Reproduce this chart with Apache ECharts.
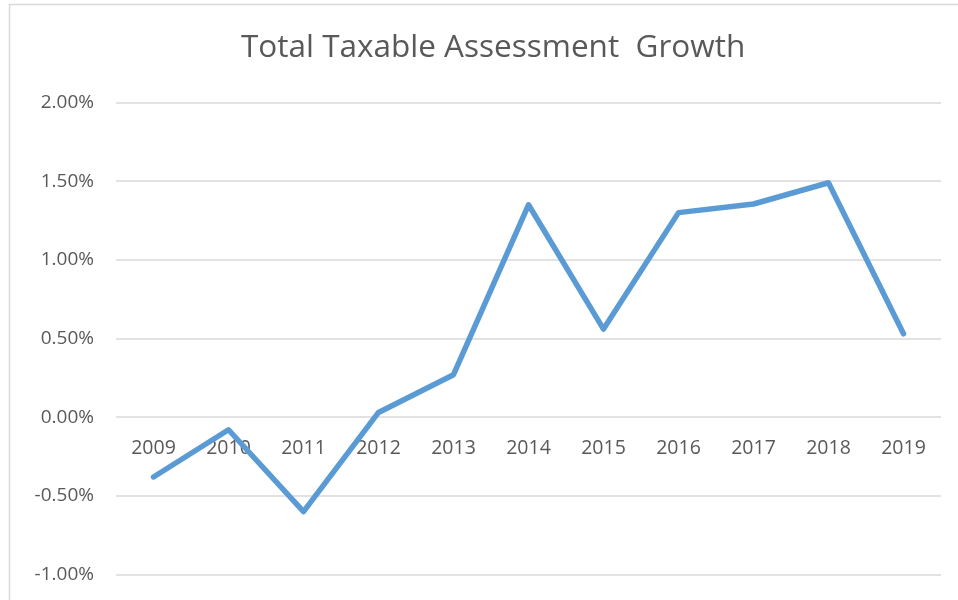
<!DOCTYPE html>
<html><head><meta charset="utf-8">
<script src="https://cdn.jsdelivr.net/npm/echarts@6/dist/echarts.min.js"></script>
<style>html,body{margin:0;padding:0;background:#fff}#c{width:958px;height:600px}</style>
</head><body><div id="c"></div>
<script>
const titleText = 'Total Taxable Assessment  Growth';
const years = ['2009','2010','2011','2012','2013','2014','2015','2016','2017','2018','2019'];
const growth = [-0.38, -0.08, -0.60, 0.03, 0.27, 1.35, 0.56, 1.30, 1.355, 1.49, 0.53];
const yMin = -1, yMax = 2, yStep = 0.5;

const gridTop = 102.5, gridBottom = 25.5, chartH = 600;
const plotH = chartH - gridTop - gridBottom;
const zeroOffset = -plotH * (0 - yMin) / (yMax - yMin);

const chart = echarts.init(document.getElementById('c'), null, {renderer:'canvas'});
chart.setOption({
  animation: false,
  backgroundColor: '#fff',
  graphic: [{type:'rect', shape:{x:9.5,y:4.5,width:1200,height:1200}, style:{fill:'none', stroke:'#d9d9d9', lineWidth:1.5}, z:-1}],
  title: {text: titleText, left: 236, top: 27,
    textStyle:{fontFamily:'Open Sans', fontSize:31.5, fontWeight:'normal', color:'#595959'}},
  grid: {left:116, right:17, top:gridTop, bottom:gridBottom, containLabel:false, outerBoundsMode:'none'},
  xAxis: {type:'category', data: years, boundaryGap:true, offset: zeroOffset,
    axisLine:{show:false, onZero:false}, axisTick:{show:false},
    axisLabel:{color:'#595959', fontFamily:'Open Sans', fontSize:19.5, margin:21}},
  yAxis: {type:'value', min:yMin, max:yMax, interval:yStep,
    axisLine:{show:false}, axisTick:{show:false},
    splitLine:{lineStyle:{color:'#d9d9d9', width:1.5}},
    axisLabel:{color:'#595959', fontFamily:'Open Sans', fontSize:19, margin:22,
      formatter: v => v.toFixed(2) + '%'}},
  series: [{type:'line', data: growth, symbol:'none', z:3,
    lineStyle:{color:'#5b9bd5', width:5.5, cap:'round', join:'round'}}]
});
</script></body></html>
